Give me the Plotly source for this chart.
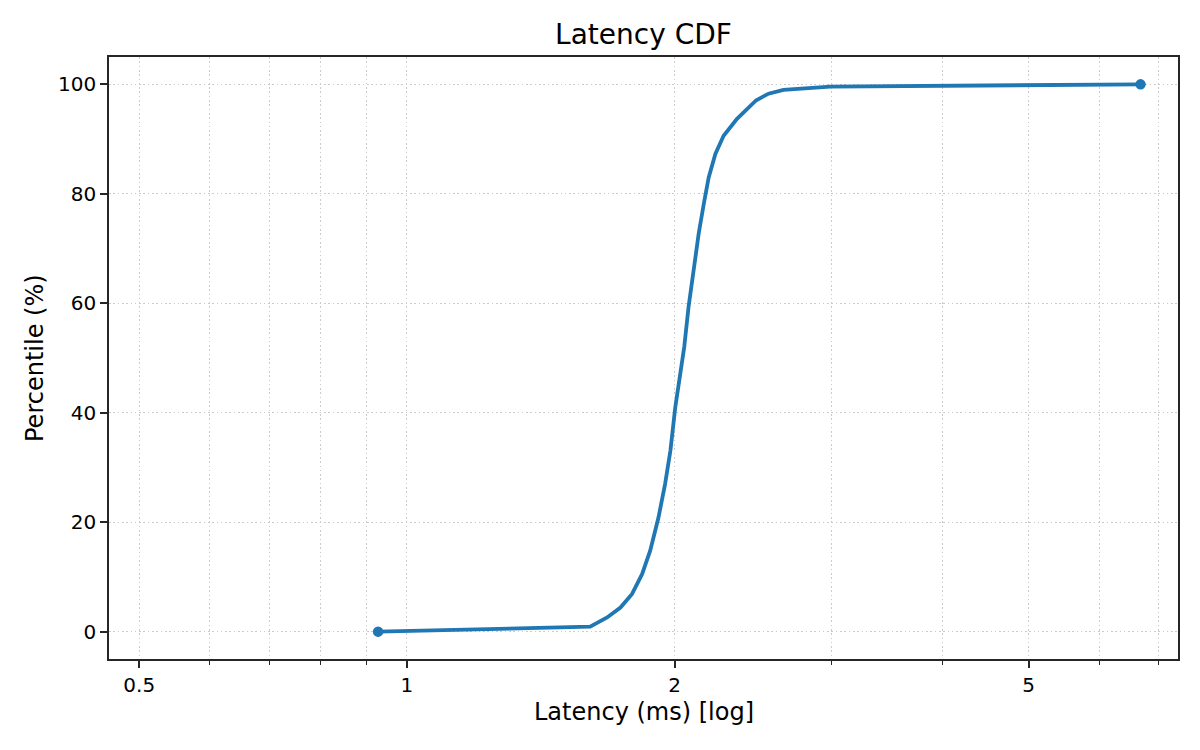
import plotly.graph_objects as go
import math

# ---- data ----
latency_ms = [0.928, 1.607, 1.679, 1.738, 1.791, 1.838, 1.877, 1.918, 1.951, 1.978,
              2.003, 2.029, 2.050, 2.073, 2.101, 2.128, 2.156, 2.184, 2.222, 2.270,
              2.350, 2.470, 2.550, 2.650, 2.992, 6.68]
percentile = [0.0, 0.9, 2.6, 4.4, 6.9, 10.5, 14.8, 20.9, 27.0, 33.1,
              41.0, 47.7, 52.0, 59.3, 66.6, 72.7, 78.1, 83.0, 87.3, 90.6,
              93.7, 97.1, 98.3, 99.0, 99.6, 100.0]

x_major_ticks = [0.5, 1, 2, 5]
x_major_labels = ["0.5", "1", "2", "5"]
x_minor_ticks = [0.6, 0.7, 0.8, 0.9, 3, 4, 6, 7]
y_ticks = [0, 20, 40, 60, 80, 100]

LINE_COLOR = "#1f77b4"
FONT = "DejaVu Sans"
SPINE = "#262626"
GRID = "#cbcbcb"

fig = go.Figure()
fig.add_trace(go.Scatter(
    x=latency_ms, y=percentile, mode="lines",
    line=dict(color=LINE_COLOR, width=3.8),
    showlegend=False, hoverinfo="skip"))
fig.add_trace(go.Scatter(
    x=[latency_ms[0], latency_ms[-1]], y=[percentile[0], percentile[-1]],
    mode="markers", marker=dict(color=LINE_COLOR, size=10.5),
    showlegend=False, hoverinfo="skip"))

# page body has an 8px margin; the figure is sized to fit the 1200x750 window
W, H = 1192, 742
ml, mr, mt, mb = 101, 22, 49, 91
pw, ph = W - ml - mr, H - mt - mb

fig.update_layout(
    width=W, height=H,
    margin=dict(l=ml, r=mr, t=mt, b=mb, pad=0),
    paper_bgcolor="white", plot_bgcolor="white",
    font=dict(family=FONT, color="black", size=20),
    title=dict(text="Latency CDF", x=(ml + pw / 2) / W, xanchor="center",
               y=1 - 26 / H, yanchor="middle", yref="container",
               font=dict(size=28, family=FONT, color="black")),
)

fig.update_xaxes(
    type="log",
    range=[math.log10(0.4624), math.log10(7.36)],
    tickmode="array", tickvals=x_major_ticks, ticktext=x_major_labels,
    ticks="outside", ticklen=7, tickwidth=1.6, tickcolor=SPINE,
    tickfont=dict(size=20, family=FONT, color="black"),
    showline=True, linecolor=SPINE, linewidth=1.6, mirror=True,
    showgrid=True, gridcolor=GRID, gridwidth=1.3, griddash="1.6px,2.7px",
    zeroline=False,
    minor=dict(tickmode="array", tickvals=x_minor_ticks, ticks="outside",
               ticklen=4, tickwidth=1.2, tickcolor=SPINE,
               showgrid=True, gridcolor=GRID, gridwidth=1.3, griddash="1.6px,2.7px"),
)
fig.update_yaxes(
    range=[-5, 105],
    tickmode="array", tickvals=y_ticks,
    ticks="outside", ticklen=7, tickwidth=1.6, tickcolor=SPINE,
    tickfont=dict(size=20, family=FONT, color="black"),
    showline=True, linecolor=SPINE, linewidth=1.6, mirror=True,
    showgrid=True, gridcolor=GRID, gridwidth=1.3, griddash="1.6px,2.7px",
    zeroline=False,
)

# axis titles as annotations for precise placement
fig.add_annotation(text="Latency (ms) [log]", xref="paper", yref="paper",
                   x=0.5, y=((H - mb) - 704) / ph, xanchor="center", yanchor="middle",
                   showarrow=False, font=dict(size=24, family=FONT, color="black"))
fig.add_annotation(text="Percentile (%)", xref="paper", yref="paper",
                   x=(27 - ml) / pw, y=0.5, xanchor="center", yanchor="middle",
                   textangle=-90, showarrow=False,
                   font=dict(size=24, family=FONT, color="black"))

fig.write_html("out.html")
